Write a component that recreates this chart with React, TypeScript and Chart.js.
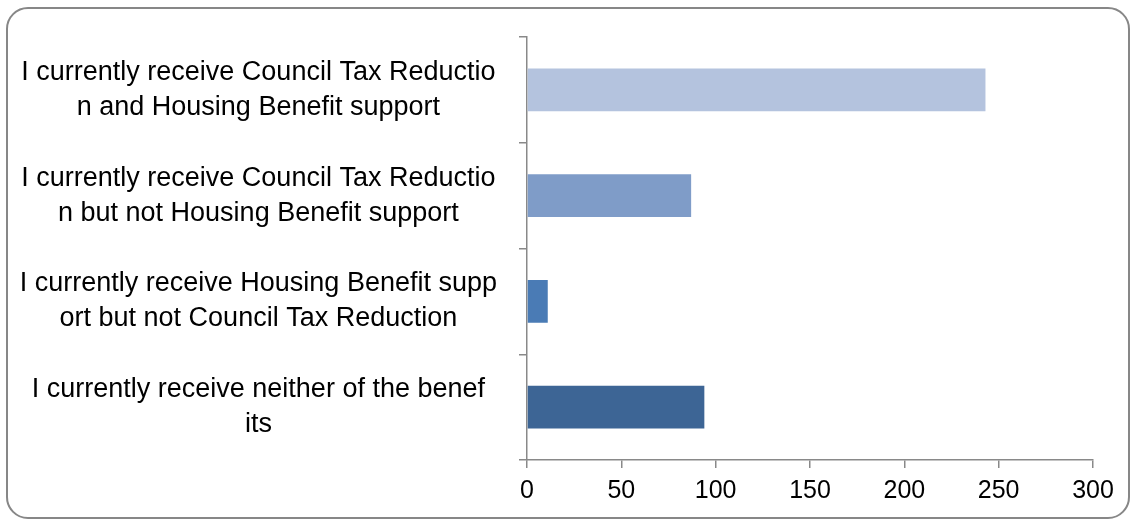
import React, { useEffect, useRef } from "react";
import { Chart, registerables } from "chart.js";

Chart.register(...registerables);

const categories: string[][] = [
  ["I currently receive Council Tax Reductio", "n and Housing Benefit support"],
  ["I currently receive Council Tax Reductio", "n but not Housing Benefit support"],
  ["I currently receive Housing Benefit supp", "ort but not Council Tax Reduction"],
  ["I currently receive neither of the benef", "its"],
];
const values: number[] = [243, 87, 11, 94];
const barColors: string[] = ["#b4c3de", "#7f9cc8", "#4a7bb5", "#3d6595"];
const xTicks: number[] = [0, 50, 100, 150, 200, 250, 300];

const FONT = "'Liberation Sans Narrow', 'Liberation Sans', sans-serif";
const AXIS = "#898989";

export default function App() {
  const ref = useRef<HTMLCanvasElement | null>(null);

  useEffect(() => {
    document.body.style.margin = "0";
    if (!ref.current) return;
    const chart = new Chart(ref.current, {
      type: "bar",
      data: {
        labels: categories,
        datasets: [
          {
            data: values,
            backgroundColor: barColors,
            borderWidth: 0,
            barPercentage: 0.405,
            categoryPercentage: 1,
          },
        ],
      },
      options: {
        indexAxis: "y",
        animation: false,
        responsive: false,
        devicePixelRatio: 1,
        layout: { padding: { left: 0, top: 37, right: 40, bottom: 0 } },
        plugins: { legend: { display: false }, tooltip: { enabled: false } },
        scales: {
          x: {
            type: "linear",
            min: 0,
            max: 300,
            afterBuildTicks: (s: any) => {
              s.ticks = xTicks.map((v) => ({ value: v }));
            },
            afterFit: (s: any) => {
              s.height = 60;
            },
            grid: {
              drawOnChartArea: false,
              drawTicks: true,
              tickLength: 8,
              color: AXIS,
              lineWidth: 1.5,
            },
            border: { display: true, color: AXIS, width: 1.5 },
            ticks: {
              color: "#000",
              padding: 8,
              font: { family: FONT, size: 25 },
              maxRotation: 0,
            },
          },
          y: {
            type: "category",
            offset: true,
            afterFit: (s: any) => {
              s.width = 527;
              s.paddingTop = 0;
              s.paddingBottom = 0;
            },
            grid: {
              offset: true,
              drawOnChartArea: false,
              drawTicks: true,
              tickLength: 8,
              color: AXIS,
              lineWidth: 1.5,
            },
            border: { display: true, color: AXIS, width: 1.5 },
            ticks: {
              color: "#000",
              padding: 22,
              crossAlign: "center",
              font: { family: FONT, size: 27, lineHeight: 1.3 },
              autoSkip: false,
            },
          },
        },
      },
    });
    return () => chart.destroy();
  }, []);

  return (
    <div style={{ position: "absolute", left: 0, top: 0, width: 1133, height: 520, background: "#fff" }}>
      <div
        style={{
          position: "absolute",
          left: 6,
          top: 7,
          width: 1124,
          height: 512,
          border: "2px solid #878787",
          borderRadius: 22,
          boxSizing: "border-box",
        }}
      />
      <canvas ref={ref} width={1133} height={520} style={{ position: "absolute", left: 0, top: 0 }} />
    </div>
  );
}
